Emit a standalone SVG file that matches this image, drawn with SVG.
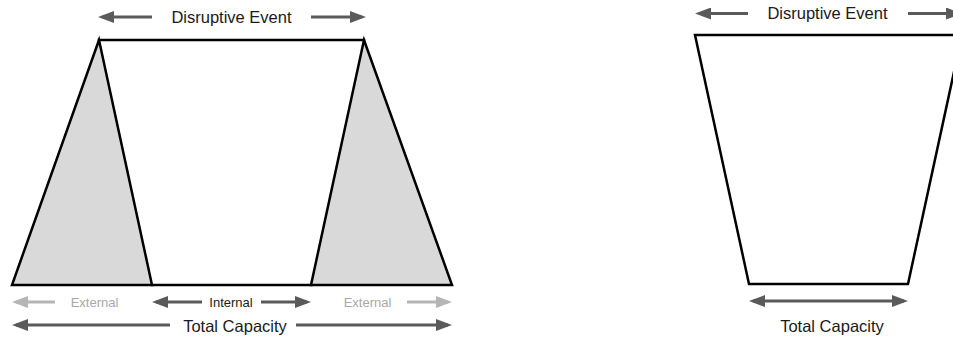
<svg xmlns="http://www.w3.org/2000/svg" width="953" height="339" viewBox="0 0 953 339">
<defs>
<style>
.shape{fill:#d9d9d9;stroke:#000;stroke-width:2.5;stroke-linejoin:miter}
.edge{fill:none;stroke:#000;stroke-width:2.5;stroke-linecap:square}
.open{fill:#fff;stroke:#000;stroke-width:2.5}
.dark{stroke:#5a5a5a;stroke-width:3;fill:none;marker-end:url(#ad)}
.light{stroke:#b5b5b5;stroke-width:3;fill:none;marker-end:url(#al)}
.dbl{stroke:#5a5a5a;stroke-width:3;fill:none;marker-end:url(#ad);marker-start:url(#ad)}
text{font-family:"Liberation Sans",Arial,sans-serif;fill:#1a1a1a}
.big{font-size:16.5px}
.small{font-size:13px}
.ext{fill:#a8a8a8}
</style>
<marker id="ad" markerUnits="userSpaceOnUse" markerWidth="16" markerHeight="12" refX="12" refY="6" orient="auto-start-reverse" viewBox="0 0 16 12">
<path d="M0,0 L16,6 L0,12 z" fill="#5a5a5a"/>
</marker>
<marker id="al" markerUnits="userSpaceOnUse" markerWidth="16" markerHeight="12" refX="12" refY="6" orient="auto" viewBox="0 0 16 12">
<path d="M0,0 L16,6 L0,12 z" fill="#b5b5b5"/>
</marker>
</defs>
<rect width="953" height="339" fill="#fff"/>

<g id="left-figure">
<g id="left-external-triangle">
<polygon class="shape" points="99,40 12,285 152,285"/>
</g>
<g id="right-external-triangle">
<polygon class="shape" points="364,40 311,285 452,285"/>
</g>
<g id="disruptive-event-span">
<line class="edge" x1="99" y1="40" x2="364" y2="40"/>
<line class="edge" x1="152" y1="285" x2="311" y2="285"/>
</g>
</g>

<g id="right-figure">
<polygon class="open" points="695,35 962,35 908,284 749,284"/>
</g>

<g id="connectors">
<line class="dark" x1="152" y1="17" x2="102" y2="17"/>
<line class="dark" x1="311" y1="17" x2="362" y2="17"/>
<line class="light" x1="55" y1="302" x2="16" y2="302"/>
<line class="dark" x1="202" y1="302" x2="156" y2="302"/>
<line class="dark" x1="261" y1="302" x2="307" y2="302"/>
<line class="light" x1="407" y1="302" x2="448" y2="302"/>
<line class="dark" x1="170" y1="325" x2="16" y2="325"/>
<line class="dark" x1="296" y1="325" x2="448" y2="325"/>
<line class="dark" x1="748" y1="13.5" x2="699" y2="13.5"/>
<line class="dark" x1="908" y1="13.5" x2="958" y2="13.5"/>
<line class="dbl" x1="753" y1="301" x2="904" y2="301"/>
</g>

<g id="labels">
<text class="big" x="231.5" y="23" text-anchor="middle">Disruptive Event</text>
<text class="small ext" x="94.5" y="306.5" text-anchor="middle">External</text>
<text class="small" x="231" y="306.5" text-anchor="middle">Internal</text>
<text class="small ext" x="367.5" y="306.5" text-anchor="middle">External</text>
<text class="big" x="235" y="331.5" text-anchor="middle">Total Capacity</text>
<text class="big" x="827.5" y="18.5" text-anchor="middle">Disruptive Event</text>
<text class="big" x="832" y="331.5" text-anchor="middle">Total Capacity</text>
</g>
</svg>
